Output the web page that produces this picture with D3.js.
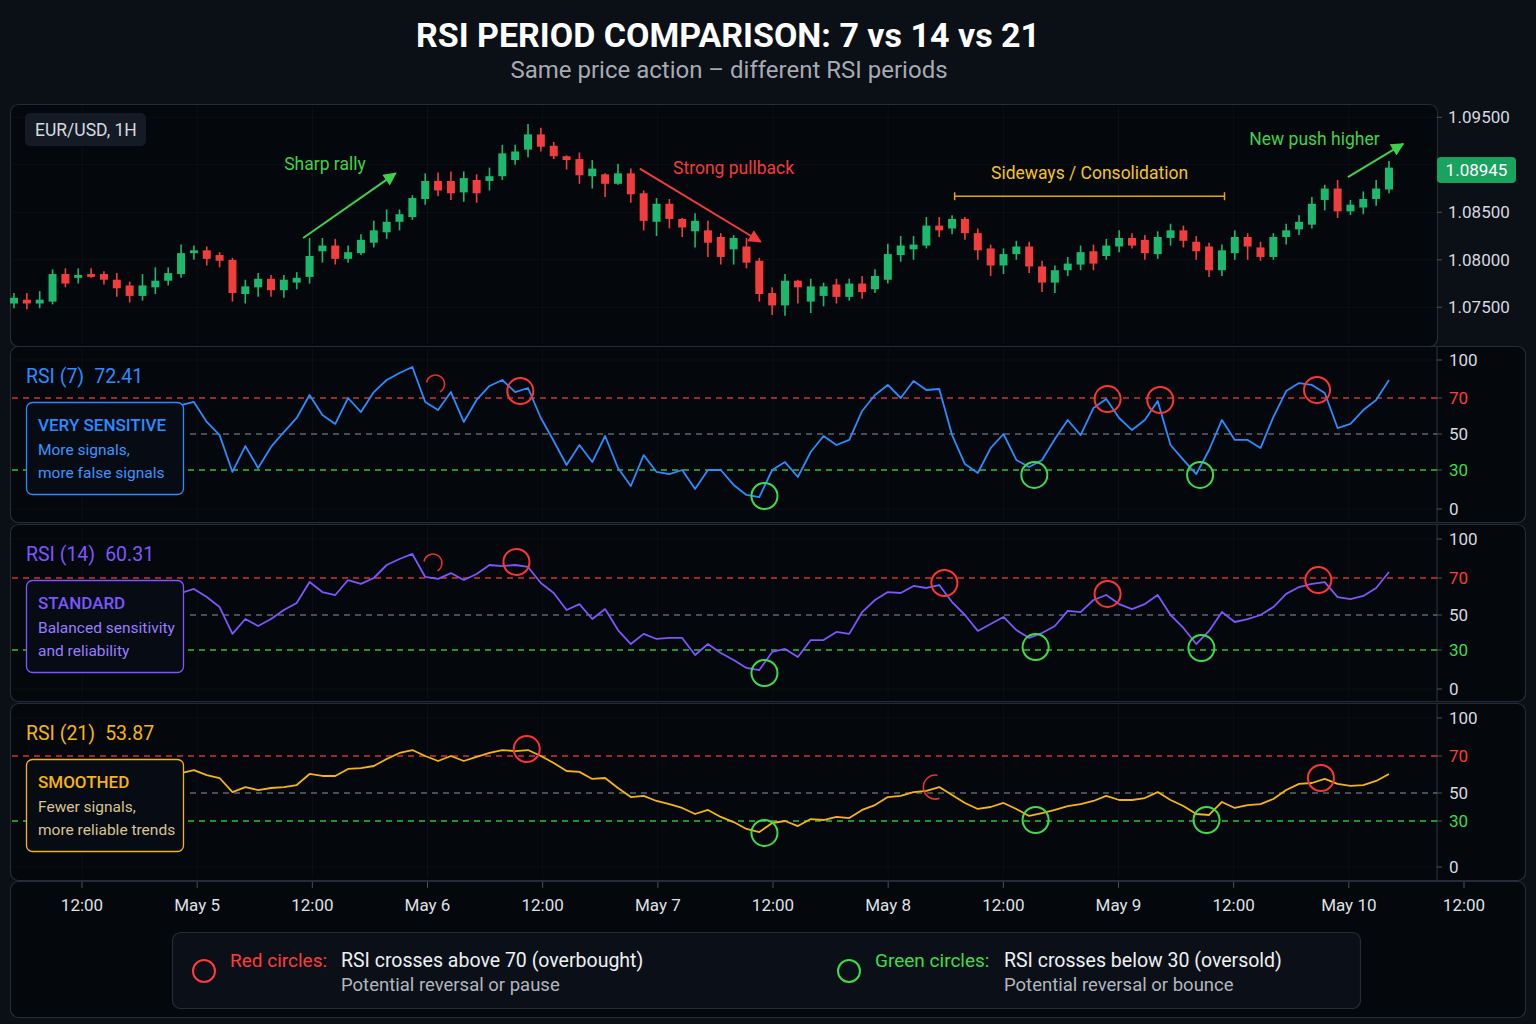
<!DOCTYPE html>
<html>
<head>
<meta charset="utf-8">
<script src="https://cdn.jsdelivr.net/npm/d3@7"></script>
<style>
  html, body { margin: 0; padding: 0; background: #0b0f16; }
  svg { display: block; font-family: Roboto, "Noto Sans", sans-serif; }
</style>
</head>
<body>
<svg id="chart" width="1536" height="1024"></svg>
<script>
// ---- price data (EUR/USD, one value per candle) ----
const candleOpen = [
  1.0754,1.0758,1.0754,1.0756,1.0785,1.0781,1.0785,1.0785,1.0779,1.0773,
  1.0762,1.0771,1.0778,1.0785,1.0807,1.0810,1.0805,1.0800,1.0764,1.0771,
  1.0780,1.0768,1.0776,1.0782,1.0809,1.0815,1.0801,1.0807,1.0818,1.0829,
  1.0840,1.0845,1.0864,1.0883,1.0883,1.0871,1.0884,1.0883,1.0888,1.0905,
  1.0916,1.0932,1.0920,1.0909,1.0906,1.0888,1.0890,1.0880,1.0891,1.0870,
  1.0840,1.0859,1.0843,1.0830,1.0831,1.0824,1.0811,1.0814,1.0799,1.0765,
  1.0752,1.0778,1.0756,1.0762,1.0774,1.0761,1.0775,1.0769,1.0779,1.0805,
  1.0811,1.0815,1.0836,1.0833,1.0843,1.0828,1.0812,1.0794,1.0806,1.0814,
  1.0793,1.0776,1.0789,1.0795,1.0809,1.0804,1.0814,1.0823,1.0821,1.0806,
  1.0823,1.0831,1.0819,1.0814,1.0789,1.0807,1.0824,1.0813,1.0803,1.0824,
  1.0832,1.0837,1.0863,1.0875,1.0851,1.0855,1.0864,1.0874
];
const candleHigh = [
  1.0765,1.0765,1.0767,1.0790,1.0791,1.0791,1.0791,1.0788,1.0786,1.0777,
  1.0785,1.0792,1.0792,1.0816,1.0815,1.0814,1.0808,1.0802,1.0779,1.0786,
  1.0784,1.0784,1.0787,1.0823,1.0823,1.0822,1.0815,1.0827,1.0841,1.0853,
  1.0853,1.0868,1.0891,1.0892,1.0893,1.0893,1.0890,1.0897,1.0921,1.0921,
  1.0943,1.0939,1.0924,1.0910,1.0913,1.0905,1.0891,1.0901,1.0896,1.0873,
  1.0865,1.0864,1.0844,1.0849,1.0841,1.0828,1.0826,1.0823,1.0802,1.0771,
  1.0785,1.0779,1.0780,1.0776,1.0780,1.0780,1.0783,1.0790,1.0817,1.0825,
  1.0825,1.0845,1.0845,1.0847,1.0845,1.0833,1.0816,1.0812,1.0820,1.0819,
  1.0799,1.0794,1.0803,1.0815,1.0816,1.0822,1.0831,1.0828,1.0826,1.0830,
  1.0838,1.0836,1.0825,1.0818,1.0816,1.0831,1.0828,1.0819,1.0828,1.0838,
  1.0847,1.0866,1.0879,1.0884,1.0863,1.0872,1.0884,1.0904
];
const candleLow = [
  1.0749,1.0748,1.0749,1.0753,1.0771,1.0775,1.0781,1.0774,1.0761,1.0755,
  1.0757,1.0764,1.0773,1.0781,1.0800,1.0794,1.0792,1.0756,1.0754,1.0761,
  1.0761,1.0760,1.0769,1.0775,1.0797,1.0795,1.0797,1.0805,1.0813,1.0822,
  1.0831,1.0842,1.0858,1.0867,1.0863,1.0861,1.0860,1.0873,1.0884,1.0900,
  1.0908,1.0914,1.0906,1.0895,1.0880,1.0875,1.0866,1.0879,1.0860,1.0831,
  1.0825,1.0833,1.0824,1.0813,1.0803,1.0795,1.0795,1.0791,1.0756,1.0742,
  1.0741,1.0754,1.0744,1.0751,1.0754,1.0757,1.0759,1.0765,1.0775,1.0798,
  1.0800,1.0812,1.0824,1.0827,1.0821,1.0800,1.0783,1.0785,1.0800,1.0786,
  1.0766,1.0765,1.0783,1.0789,1.0789,1.0800,1.0808,1.0812,1.0800,1.0801,
  1.0815,1.0813,1.0800,1.0782,1.0783,1.0800,1.0800,1.0799,1.0800,1.0816,
  1.0826,1.0833,1.0852,1.0844,1.0847,1.0848,1.0857,1.0870
];
const candleClose = [
  1.0760,1.0754,1.0758,1.0785,1.0775,1.0784,1.0782,1.0779,1.0770,1.0762,
  1.0773,1.0778,1.0786,1.0807,1.0810,1.0801,1.0799,1.0765,1.0772,1.0780,
  1.0768,1.0779,1.0781,1.0804,1.0815,1.0801,1.0808,1.0821,1.0831,1.0840,
  1.0848,1.0865,1.0883,1.0873,1.0870,1.0886,1.0870,1.0888,1.0912,1.0914,
  1.0932,1.0919,1.0909,1.0905,1.0889,1.0896,1.0880,1.0891,1.0869,1.0841,
  1.0859,1.0843,1.0834,1.0841,1.0818,1.0803,1.0823,1.0797,1.0764,1.0752,
  1.0778,1.0771,1.0772,1.0772,1.0761,1.0775,1.0766,1.0783,1.0806,1.0815,
  1.0816,1.0836,1.0831,1.0843,1.0828,1.0810,1.0794,1.0806,1.0814,1.0793,
  1.0776,1.0789,1.0796,1.0808,1.0796,1.0815,1.0823,1.0815,1.0807,1.0824,
  1.0831,1.0820,1.0809,1.0789,1.0810,1.0824,1.0814,1.0803,1.0824,1.0831,
  1.0840,1.0859,1.0875,1.0851,1.0858,1.0864,1.0875,1.0897
];
const lastPrice = 1.08945;
const priceGrid = [1.075, 1.080, 1.085, 1.090, 1.095];
const priceLabels = [1.075, 1.080, 1.085, 1.095];

// ---- RSI series, one value per candle starting at candle rsiStart ----
const rsiStart = 13;
const rsi7 = [
  66.1,67.8,56.7,49.4,28.5,43.3,31.1,42.8,51.1,58.9,
  72.4,60.6,55.6,70.0,62.2,74.7,84.2,89.7,94.5,67.8,
  63.3,74.7,56.7,68.9,79.5,84.2,74.7,77.9,58.9,46.1,
  32.8,43.9,34.4,48.9,31.1,17.7,38.3,28.5,26.9,30.0,
  15.4,30.0,30.0,18.5,10.8,9.2,30.0,34.4,24.6,40.0,
  48.9,43.9,46.7,62.8,72.4,80.3,70.0,83.4,76.3,77.1,
  49.4,33.3,27.7,42.2,50.0,35.6,31.7,35.6,47.2,57.8,
  49.4,64.4,69.4,58.9,52.2,57.8,68.3,43.9,35.6,26.9,
  41.1,57.8,46.7,46.7,42.2,59.4,75.5,81.8,80.3,73.9,
  53.3,55.6,63.3,68.9,84.2
];
const rsi14 = [
  61.9,64.1,59.7,54.3,39.2,47.7,43.7,47.7,52.7,56.5,
  67.8,62.4,60.8,68.9,66.8,70.0,80.0,84.6,88.5,70.8,
  69.5,73.8,68.9,73.1,80.0,79.2,80.0,78.5,67.3,61.9,
  52.7,55.9,47.7,53.2,41.4,33.4,39.2,36.3,36.9,36.9,
  26.2,33.4,27.7,22.3,16.2,14.6,28.5,30.6,24.6,35.7,
  35.7,40.3,39.2,51.6,58.1,62.4,61.9,65.7,64.6,66.2,
  57.0,50.0,40.9,44.9,48.9,41.4,36.9,39.7,43.7,52.2,
  51.6,58.1,60.8,55.9,53.2,55.9,60.8,50.0,42.6,33.4,
  40.9,51.6,46.0,47.7,50.0,54.3,61.4,65.1,66.8,67.8,
  59.7,58.6,60.3,64.6,74.6
];
const rsi21 = [
  60.8,62.4,59.7,58.1,50.5,53.2,51.6,52.7,53.2,54.3,
  60.3,59.2,59.2,63.0,63.5,64.6,68.4,72.4,74.7,70.0,
  67.3,70.0,67.3,69.5,72.4,74.7,73.9,74.7,70.0,66.2,
  61.9,61.4,57.6,58.1,52.7,47.1,47.9,44.3,42.1,39.3,
  35.0,37.9,32.9,29.3,24.8,22.8,28.7,30.0,26.7,31.4,
  30.7,32.9,32.1,37.9,41.4,47.1,47.9,50.5,51.1,53.2,
  48.6,42.9,38.6,40.0,42.9,38.6,33.6,35.7,37.9,40.7,
  42.1,44.3,47.9,45.0,45.0,46.4,50.5,45.0,40.7,35.0,
  34.3,43.6,39.3,41.4,42.1,45.7,51.6,54.9,55.4,57.6,
  54.9,53.8,54.3,56.5,60.3
];

// signal markers: [candle index, RSI value]
const rsi7Over = [[39.4, 75.5], [85.1, 69.4], [89.2, 68.9], [101.4, 76.3]];
const rsi7Under = [[58.4, 10.0], [79.4, 26.2], [92.3, 26.2]];
const rsi7Faint = [[32.8, 81.0]];
const rsi14Over = [[39.1, 82.3], [72.4, 67.3], [85.1, 61.4], [101.5, 68.9]];
const rsi14Under = [[58.4, 12.3], [79.5, 31.7], [92.4, 31.1]];
const rsi14Faint = [[32.6, 81.5]];
const rsi21Over = [[39.9, 75.5], [101.7, 58.1]];
const rsi21Under = [[58.4, 22.2], [79.5, 30.7], [92.8, 30.7]];
const rsi21Faint = [[71.7, 53.2]];

const rsiTicks = [100, 70, 50, 30, 0];
const timeStart = new Date(2024, 4, 4, 12);
const timeEnd = new Date(2024, 4, 10, 12);

// ---- layout ----
const W = 1536, H = 1024;
const plotRight = 1437;
const bg = "#0b0f16", panelFill = "#04070c", panelStroke = "#262c36";
const green = "#1db86d", red = "#f23d3d";

const svg = d3.select("#chart");
svg.append("rect").attr("width", W).attr("height", H).attr("fill", bg);

const defs = svg.append("defs");
function arrowMarker(id, color) {
    defs.append("marker")
        .attr("id", id)
        .attr("viewBox", "0 0 10 10")
        .attr("refX", 9).attr("refY", 5)
        .attr("markerUnits", "userSpaceOnUse")
        .attr("markerWidth", 15).attr("markerHeight", 13)
        .attr("orient", "auto")
        .append("path").attr("d", "M0,0 L10,5 L0,10 Z").attr("fill", color);
}
arrowMarker("arr-green", "#3fd14c");
arrowMarker("arr-red", "#f23b3b");

// title
svg.append("text").attr("x", 728).attr("y", 35)
    .attr("text-anchor", "middle").attr("dominant-baseline", "central")
    .attr("fill", "#ffffff").attr("font-size", 34).attr("font-weight", 700)
    .text("RSI PERIOD COMPARISON: 7 vs 14 vs 21");
svg.append("text").attr("x", 729).attr("y", 70)
    .attr("text-anchor", "middle").attr("dominant-baseline", "central")
    .attr("fill", "#a6abb3").attr("font-size", 24)
    .text("Same price action \u2013 different RSI periods");

function panel(x, y, w, h) {
    svg.append("rect")
        .attr("x", x + 0.5).attr("y", y + 0.5)
        .attr("width", w).attr("height", h)
        .attr("rx", 8)
        .attr("fill", panelFill).attr("stroke", panelStroke).attr("stroke-width", 1.2);
}

const xIdx = d3.scaleLinear().domain([0, candleOpen.length - 1]).range([14, 1389]);
const xTime = d3.scaleTime().domain([timeStart, timeEnd]).range([82, 1464]);
const timeTicks = xTime.ticks(d3.timeHour.every(12));
const fmtDay = d3.timeFormat("%b %-d");
const tickLabel = d => d.getHours() === 12 ? "12:00" : fmtDay(d);
const gridTicks = timeTicks.filter(t => xTime(t) < plotRight - 5);

function vGrid(top, bottom) {
    svg.append("g").selectAll("line").data(gridTicks).join("line")
        .attr("x1", d => xTime(d)).attr("x2", d => xTime(d))
        .attr("y1", top).attr("y2", bottom)
        .attr("stroke", "#ffffff").attr("stroke-opacity", 0.035);
}

// ---- price panel ----
const priceTop = 104, priceBottom = 346;
panel(10, priceTop, plotRight - 10, priceBottom - priceTop);
const yPrice = d3.scaleLinear().domain([1.075, 1.095]).range([307.3, 117.3]);
vGrid(priceTop + 2, priceBottom - 2);
svg.append("g").selectAll("line").data(priceGrid).join("line")
    .attr("x1", 12).attr("x2", plotRight)
    .attr("y1", d => yPrice(d)).attr("y2", d => yPrice(d))
    .attr("stroke", "#ffffff").attr("stroke-opacity", 0.035);

const candles = candleOpen.map((o, i) => ({
    i, o, h: candleHigh[i], l: candleLow[i], c: candleClose[i]
}));
const cg = svg.append("g");
cg.selectAll("line").data(candles).join("line")
    .attr("x1", d => xIdx(d.i)).attr("x2", d => xIdx(d.i))
    .attr("y1", d => yPrice(d.h)).attr("y2", d => yPrice(d.l))
    .attr("stroke", d => d.c >= d.o ? green : red).attr("stroke-width", 1.6);
cg.selectAll("rect").data(candles).join("rect")
    .attr("x", d => xIdx(d.i) - 4).attr("width", 8)
    .attr("y", d => yPrice(Math.max(d.o, d.c)))
    .attr("height", d => Math.max(1.5, Math.abs(yPrice(d.o) - yPrice(d.c))))
    .attr("fill", d => d.c >= d.o ? green : red);

// symbol badge
svg.append("rect").attr("x", 25).attr("y", 113).attr("width", 121).attr("height", 33)
    .attr("rx", 5).attr("fill", "#151b24");
svg.append("text").attr("x", 35).attr("y", 130).attr("dominant-baseline", "central")
    .attr("fill", "#d6dae0").attr("font-size", 17.5).text("EUR/USD, 1H");

// annotations
const annotations = [
    { text: "Sharp rally", color: "#3fd14c", marker: "arr-green", at: [24.2, 1.0901], from: [22.5, 1.0823], to: [29.7, 1.0891] },
    { text: "Strong pullback", color: "#f23b3b", marker: "arr-red", at: [56.0, 1.0897], from: [48.7, 1.0896], to: [58.1, 1.0819] },
    { text: "New push higher", color: "#3fd14c", marker: "arr-green", at: [101.2, 1.0927], from: [103.8, 1.0887], to: [108.1, 1.0922] }
];
annotations.forEach(a => {
    svg.append("line")
        .attr("x1", xIdx(a.from[0])).attr("y1", yPrice(a.from[1]))
        .attr("x2", xIdx(a.to[0])).attr("y2", yPrice(a.to[1]))
        .attr("stroke", a.color).attr("stroke-width", 2)
        .attr("marker-end", `url(#${a.marker})`);
    svg.append("text")
        .attr("x", xIdx(a.at[0])).attr("y", yPrice(a.at[1]))
        .attr("text-anchor", "middle").attr("dominant-baseline", "central")
        .attr("fill", a.color).attr("font-size", 17.5).text(a.text);
});
// sideways bracket
const sideways = { text: "Sideways / Consolidation", at: [83.7, 1.0891], from: 73.2, to: 94.2, level: 1.0867 };
const byY = yPrice(sideways.level);
svg.append("path")
    .attr("d", `M${xIdx(sideways.from)},${byY - 4} V${byY + 4} M${xIdx(sideways.from)},${byY} H${xIdx(sideways.to)} M${xIdx(sideways.to)},${byY - 4} V${byY + 4}`)
    .attr("stroke", "#e5a50a").attr("stroke-width", 1.5).attr("fill", "none");
svg.append("text")
    .attr("x", xIdx(sideways.at[0])).attr("y", yPrice(sideways.at[1]))
    .attr("text-anchor", "middle").attr("dominant-baseline", "central")
    .attr("fill", "#f5c518").attr("font-size", 17.5).text(sideways.text);

// price axis
svg.append("g").selectAll("line").data(priceLabels).join("line")
    .attr("x1", plotRight).attr("x2", plotRight + 5)
    .attr("y1", d => yPrice(d)).attr("y2", d => yPrice(d))
    .attr("stroke", "#4a505a");
svg.append("g").selectAll("text").data(priceLabels).join("text")
    .attr("x", 1448).attr("y", d => yPrice(d)).attr("dominant-baseline", "central")
    .attr("fill", "#d6dae0").attr("font-size", 17)
    .text(d => d3.format(".5f")(d));
svg.append("rect").attr("x", 1437).attr("y", yPrice(lastPrice) - 13)
    .attr("width", 79).attr("height", 26).attr("rx", 4).attr("fill", "#1aa35e");
svg.append("text").attr("x", 1476.5).attr("y", yPrice(lastPrice))
    .attr("text-anchor", "middle").attr("dominant-baseline", "central")
    .attr("fill", "#ffffff").attr("font-size", 17).text(d3.format(".5f")(lastPrice));

// ---- RSI panels ----
const rsiPanels = [
    { label: "RSI (7)", value: "72.41", series: rsi7, over: rsi7Over, under: rsi7Under, faint: rsi7Faint, faintArc: [-80, 150],
      color: "#2b8cff", subColor: "#3d95ff", head: "VERY SENSITIVE", lines: ["More signals,", "more false signals"],
      top: 346, h: 176, levels: [509, 470, 434, 398, 360] },
    { label: "RSI (14)", value: "60.31", series: rsi14, over: rsi14Over, under: rsi14Under, faint: rsi14Faint, faintArc: [-80, 150],
      color: "#7c56ff", subColor: "#9a7dff", head: "STANDARD", lines: ["Balanced sensitivity", "and reliability"],
      top: 524, h: 177, levels: [689, 650, 615, 578, 539] },
    { label: "RSI (21)", value: "53.87", series: rsi21, over: rsi21Over, under: rsi21Under, faint: rsi21Faint, faintArc: [160, 370],
      color: "#f5b50a", subColor: "#d9c48e", head: "SMOOTHED", lines: ["Fewer signals,", "more reliable trends"],
      top: 703, h: 177, levels: [867, 821, 793, 756, 718] }
];

rsiPanels.forEach(p => {
    const y = d3.scaleLinear().domain([0, 30, 50, 70, 100]).range(p.levels);
    const bottom = p.top + p.h;
    panel(10, p.top, 1515, p.h);
    vGrid(p.top + 2, bottom - 2);
    svg.append("g").selectAll("line").data([0, 100]).join("line")
        .attr("x1", 12).attr("x2", plotRight)
        .attr("y1", d => y(d)).attr("y2", d => y(d))
        .attr("stroke", "#ffffff").attr("stroke-opacity", 0.035);
    svg.append("line").attr("x1", plotRight).attr("x2", plotRight)
        .attr("y1", p.top + 1).attr("y2", bottom).attr("stroke", "#2f3540");

    // reference levels
    const refs = [
        { v: 70, color: "#d9302f", x0: 12 },
        { v: 50, color: "#5f646c", x0: 190 },
        { v: 30, color: "#2fbf3a", x0: 12 }
    ];
    svg.append("g").selectAll("line").data(refs).join("line")
        .attr("x1", d => d.x0).attr("x2", plotRight)
        .attr("y1", d => y(d.v)).attr("y2", d => y(d.v))
        .attr("stroke", d => d.color).attr("stroke-width", 1.3)
        .attr("stroke-dasharray", "6,5");

    const line = d3.line().x((d, k) => xIdx(rsiStart + k)).y(d => y(d));
    svg.append("path").datum(p.series)
        .attr("d", line).attr("fill", "none")
        .attr("stroke", p.color).attr("stroke-width", 1.8).attr("stroke-linejoin", "round");

    svg.append("g").selectAll("circle").data(p.over).join("circle")
        .attr("cx", d => xIdx(d[0])).attr("cy", d => y(d[1])).attr("r", 13)
        .attr("fill", "none").attr("stroke", "#ff3434").attr("stroke-width", 2);
    svg.append("g").selectAll("circle").data(p.under).join("circle")
        .attr("cx", d => xIdx(d[0])).attr("cy", d => y(d[1])).attr("r", 13)
        .attr("fill", "none").attr("stroke", "#3ddc4a").attr("stroke-width", 2);
    p.faint.forEach(d => {
        const path = d3.path();
        const rad = a => (a - 90) * Math.PI / 180;
        path.arc(xIdx(d[0]), y(d[1]), p.faintArc[0] > 0 ? 12 : 9, rad(p.faintArc[0]), rad(p.faintArc[1]));
        svg.append("path").attr("d", path.toString()).attr("fill", "none")
            .attr("stroke", "#ff3434").attr("stroke-width", 1.6).attr("stroke-opacity", 0.9);
    });

    // description box
    const bx = 26, by = p.top + 56;
    svg.append("rect").attr("x", bx + 0.5).attr("y", by + 0.5).attr("width", 157).attr("height", 92)
        .attr("rx", 6).attr("fill", "#060b14").attr("stroke", p.color).attr("stroke-width", 1.3);
    svg.append("text").attr("x", bx + 12).attr("y", by + 23).attr("dominant-baseline", "central")
        .attr("fill", p.color).attr("font-size", 17).attr("font-weight", 500).text(p.head);
    p.lines.forEach((t, k) => {
        svg.append("text").attr("x", bx + 12).attr("y", by + 48 + k * 23).attr("dominant-baseline", "central")
            .attr("fill", p.subColor).attr("font-size", 15.5).text(t);
    });

    // header
    const head = svg.append("text").attr("x", 26).attr("y", p.top + 30)
        .attr("dominant-baseline", "central").attr("fill", p.color).attr("font-size", 19.5);
    head.append("tspan").text(p.label);
    head.append("tspan").attr("dx", 10).text(p.value);

    // axis
    svg.append("g").selectAll("line").data(rsiTicks).join("line")
        .attr("x1", plotRight).attr("x2", plotRight + 5)
        .attr("y1", d => y(d)).attr("y2", d => y(d)).attr("stroke", "#4a505a");
    svg.append("g").selectAll("text").data(rsiTicks).join("text")
        .attr("x", 1449).attr("y", d => y(d)).attr("dominant-baseline", "central")
        .attr("font-size", 17)
        .attr("fill", d => d === 70 ? "#ff3b3b" : d === 30 ? "#3ddc4a" : "#d6dae0")
        .text(d => d);
});

// ---- time axis panel ----
const axisTop = 881;
panel(10, axisTop, 1515, 136);
svg.append("g").selectAll("line").data(timeTicks).join("line")
    .attr("x1", d => xTime(d)).attr("x2", d => xTime(d))
    .attr("y1", axisTop + 1).attr("y2", axisTop + 7).attr("stroke", "#4a505a");
svg.append("g").selectAll("text").data(timeTicks).join("text")
    .attr("x", d => xTime(d)).attr("y", 905)
    .attr("text-anchor", "middle").attr("dominant-baseline", "central")
    .attr("fill", "#dde1e6").attr("font-size", 17).text(tickLabel);

// legend
const legendItems = [
    { key: "Red circles:", text: "RSI crosses above 70 (overbought)", sub: "Potential reversal or pause", color: "#ff3b3b", x: 192, textX: 341 },
    { key: "Green circles:", text: "RSI crosses below 30 (oversold)", sub: "Potential reversal or bounce", color: "#3ddc4a", x: 837, textX: 1004 }
];
svg.append("rect").attr("x", 172.5).attr("y", 932.5).attr("width", 1188).attr("height", 76)
    .attr("rx", 8).attr("fill", "#0b1018").attr("stroke", panelStroke).attr("stroke-width", 1.2);
const lg = svg.append("g").selectAll("g").data(legendItems).join("g");
lg.append("circle").attr("cx", d => d.x + 12).attr("cy", 971).attr("r", 11)
    .attr("fill", "none").attr("stroke", d => d.color).attr("stroke-width", 2);
lg.append("text").attr("x", d => d.x + 38).attr("y", 960).attr("dominant-baseline", "central")
    .attr("fill", d => d.color).attr("font-size", 19).text(d => d.key);
lg.append("text").attr("x", d => d.textX).attr("y", 960).attr("dominant-baseline", "central")
    .attr("fill", "#eef0f3").attr("font-size", 19.5).text(d => d.text);
lg.append("text").attr("x", d => d.textX).attr("y", 985).attr("dominant-baseline", "central")
    .attr("fill", "#b1b6be").attr("font-size", 18.5).text(d => d.sub);
</script>
</body>
</html>
